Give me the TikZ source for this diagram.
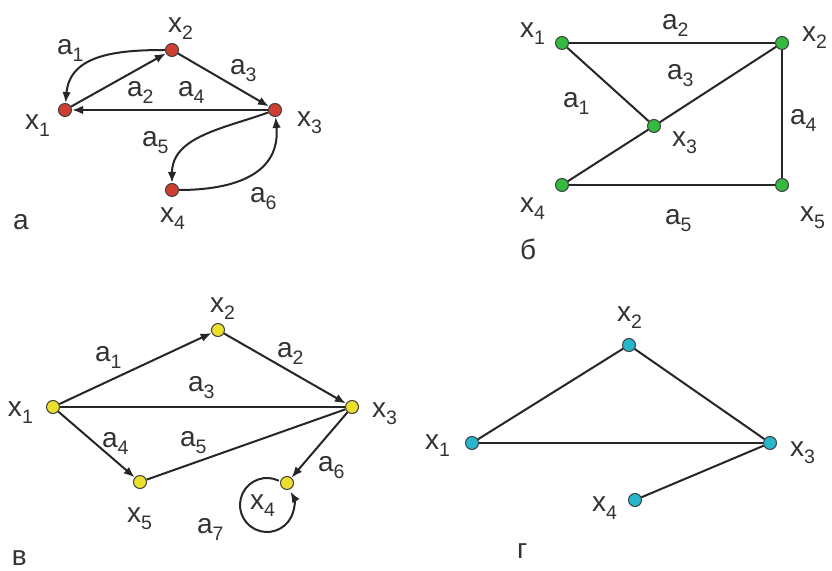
\documentclass[tikz,border=0pt]{standalone}
\usepackage{fontspec}
\setmainfont{Liberation Sans}
\usetikzlibrary{arrows.meta}
\newcommand\sbs[1]{\raisebox{-7pt}{\fontsize{19.5}{19.5}\selectfont #1}}
\definecolor{cred}{RGB}{208,62,48}
\definecolor{cgreen}{RGB}{52,186,62}
\definecolor{cyellow}{RGB}{236,222,44}
\definecolor{ccyan}{RGB}{40,182,205}
\begin{document}
\begin{tikzpicture}[x=1pt,y=1pt,
  dotn/.style={circle,draw=black!75,line width=1pt,inner sep=0pt,minimum size=13pt},
  lab/.style={anchor=base west,inner sep=0pt,outer sep=0pt,font=\fontsize{28}{30}\selectfont,text=black!80},
  ed/.style={line width=2pt,draw=black!85},
  arr/.style={ed,-{Latex[length=11pt,width=8.5pt]}}]
\useasboundingbox (0,0) rectangle (832,570);

% ---------- graph a ----------
\node[dotn,fill=cred] (A1) at (65,460) {};
\node[dotn,fill=cred] (A2) at (172,520) {};
\node[dotn,fill=cred] (A3) at (275,460) {};
\node[dotn,fill=cred] (A4) at (172,380) {};
\draw[arr] (A2) to[out=180,in=85,looseness=1.1] (A1);
\draw[arr] (A1) -- (A2);
\draw[arr] (A2) -- (A3);
\draw[arr] (A3) -- (A1);
\draw[arr] (A3) to[out=200,in=90] (A4);
\draw[arr] (A4) to[out=0,in=-85,looseness=1.2] (A3);
\node[lab] (ax1) at (25,440) {x\sbs{1}};
\node[lab] (ax2) at (168,537) {x\sbs{2}};
\node[lab] (ax3) at (297,443) {x\sbs{3}};
\node[lab] (ax4) at (160,347) {x\sbs{4}};
\node[lab] (aa1) at (57,515) {a\sbs{1}};
\node[lab] (aa2) at (127,473) {a\sbs{2}};
\node[lab] (aa4) at (178,473) {a\sbs{4}};
\node[lab] (aa3) at (230,495) {a\sbs{3}};
\node[lab] (aa5) at (142,423) {a\sbs{5}};
\node[lab] (aa6) at (250,367) {a\sbs{6}};
\node[lab] (ta) at (13,340) {а};

% ---------- graph b ----------
\node[dotn,fill=cgreen] (B1) at (562,527) {};
\node[dotn,fill=cgreen] (B2) at (782,527) {};
\node[dotn,fill=cgreen] (B3) at (654,444) {};
\node[dotn,fill=cgreen] (B4) at (562,385) {};
\node[dotn,fill=cgreen] (B5) at (782,385) {};
\draw[ed] (B1) -- (B2);
\draw[ed] (B1) -- (B3);
\draw[ed] (B3) -- (B2);
\draw[ed] (B4) -- (B3);
\draw[ed] (B2) -- (B5);
\draw[ed] (B4) -- (B5);
\node[lab] (bx1) at (520,532) {x\sbs{1}};
\node[lab] (bx2) at (802,528) {x\sbs{2}};
\node[lab] (bx3) at (672,423) {x\sbs{3}};
\node[lab] (bx4) at (520,357) {x\sbs{4}};
\node[lab] (bx5) at (800,348) {x\sbs{5}};
\node[lab] (ba2) at (662,540) {a\sbs{2}};
\node[lab] (ba3) at (667,490) {a\sbs{3}};
\node[lab] (ba1) at (563,462) {a\sbs{1}};
\node[lab] (ba4) at (790,445) {a\sbs{4}};
\node[lab] (ba5) at (665,345) {a\sbs{5}};
\node[lab] (tb) at (520,310) {б};

% ---------- graph v ----------
\node[dotn,fill=cyellow] (C1) at (53,163) {};
\node[dotn,fill=cyellow] (C2) at (218,240) {};
\node[dotn,fill=cyellow] (C3) at (352,163) {};
\node[dotn,fill=cyellow] (C5) at (140,88) {};
\node[dotn,fill=cyellow] (C4) at (287,87) {};
\coordinate (loopc) at (267,65);
\draw[arr] (C1) -- (C2);
\draw[arr] (C2) -- (C3);
\draw[ed] (C1) -- (C3);
\draw[arr] (C1) -- (C5);
\draw[ed] (C5) -- (C3);
\draw[arr] (C3) -- (C4);
\draw[arr] ([shift={(64:27)}]loopc) arc[start angle=64,end angle=390,radius=27];
\node[lab] (cx1) at (8,153) {x\sbs{1}};
\node[lab] (cx2) at (210,257) {x\sbs{2}};
\node[lab] (cx3) at (372,152) {x\sbs{3}};
\node[lab] (cx5) at (127,48) {x\sbs{5}};
\node[lab] (cx4) at (250,60) {x\sbs{4}};
\node[lab] (ca1) at (95,208) {a\sbs{1}};
\node[lab] (ca2) at (277,212) {a\sbs{2}};
\node[lab] (ca3) at (188,178) {a\sbs{3}};
\node[lab] (ca4) at (102,122) {a\sbs{4}};
\node[lab] (ca5) at (180,123) {a\sbs{5}};
\node[lab] (ca6) at (318,98) {a\sbs{6}};
\node[lab] (ca7) at (197,37) {a\sbs{7}};
\node[lab] (tv) at (12,5) {в};

% ---------- graph g ----------
\node[dotn,fill=ccyan] (D1) at (472,127) {};
\node[dotn,fill=ccyan] (D2) at (629,225) {};
\node[dotn,fill=ccyan] (D3) at (770,127) {};
\node[dotn,fill=ccyan] (D4) at (635,70) {};
\draw[ed] (D1) -- (D2);
\draw[ed] (D2) -- (D3);
\draw[ed] (D1) -- (D3);
\draw[ed] (D4) -- (D3);
\node[lab] (dx2) at (617,248) {x\sbs{2}};
\node[lab] (dx1) at (425,120) {x\sbs{1}};
\node[lab] (dx3) at (790,113) {x\sbs{3}};
\node[lab] (dx4) at (592,58) {x\sbs{4}};
\node[lab] (tg) at (517,12) {г};
\end{tikzpicture}
\end{document}
